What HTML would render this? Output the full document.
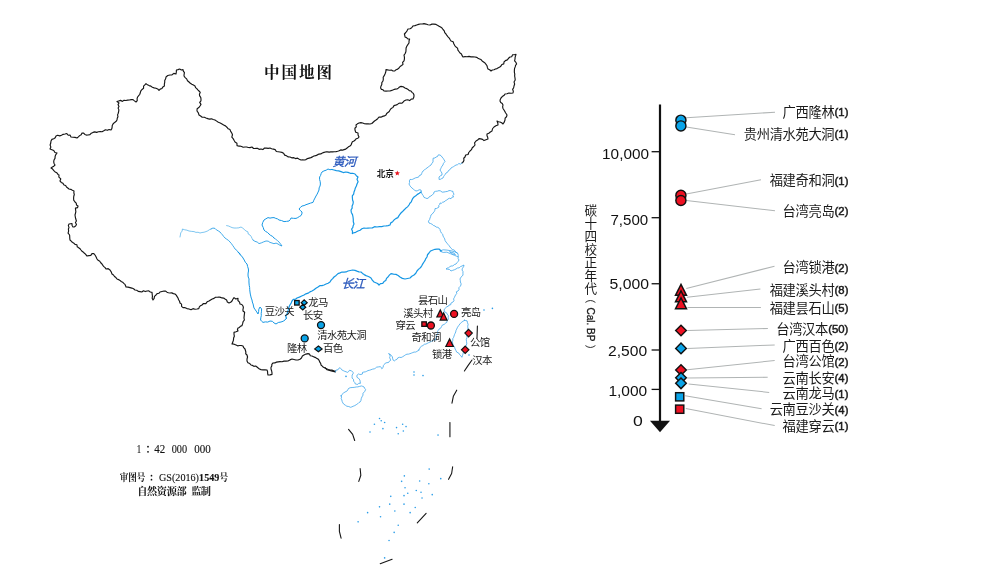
<!DOCTYPE html>
<html lang="zh"><head><meta charset="utf-8"><title>中国地图</title>
<style>
html,body{margin:0;padding:0;background:#fff}
body{width:1000px;height:576px;overflow:hidden;font-family:"Liberation Sans",sans-serif}
svg{display:block;filter:blur(0.35px)}
</style></head><body>
<svg width="1000" height="576" viewBox="0 0 1000 576">
<g fill="none" stroke-linejoin="round" stroke-linecap="round">
<path d="M335.6,371L333.71,370.77L331.9,370.12L330,370L328.3,369.42L326.62,368.79L325,368L323.43,367.31L322.28,366.07L321,365L320.67,363.29L319.66,361.92L319.14,360.31L318,359L316.55,358.16L315.07,357.35L313.53,356.68L312,356L310.31,355.8L309.52,354.09L308,353.6L305.93,354.1L304,355L302.37,356.09L301.45,358.05L299.97,359.31L298,360L295.94,360.04L293.97,359.53L292,359L289.94,359.89L288,361L286,361.17L283.98,361.08L282.02,361.72L280,361.6L278.22,361.82L276.47,362.14L274.8,362.92L273,363L271.82,364.27L271.78,365.93L271.02,367.34L271,369L271.59,370.75L271.97,372.54L272,374.4L270.02,374.84L268,375L267.62,373.34L267.59,371.61L267,370L265.01,369.76L262.99,369.92L261,369.6L259.45,369.07L258.21,368.05L257,367L255.66,366.01L253.89,366.32L252.53,365.4L251,365L249.79,363.54L247.89,362.78L247,361L247.02,359L247.55,357L247,355L245.7,353.77L245.87,352.04L245.46,350.51L245,349L243.71,347.69L243,346L241.28,345.54L239.5,345.53L237.66,345.86L236,345L234.08,344.16L232,344L232.8,342.07L233.45,340.1L233.6,338L234.34,336.18L234.02,334.28L234,332.4L236.02,331.75L238,331L237.45,329.5L238,328L239.47,327.42L240.53,326.18L242,325.6L242.63,323.66L243.11,321.66L244.4,320L243.99,318L244.18,316L244.4,314L244.65,312.31L243,310.95L242.96,309.31L243.38,307.58L243,306L241.84,304.5L240,304L239.56,302.05L237.92,300.54L238,298.4L235.79,299.04L234,297.6L232.87,299.22L232,301L230.67,302.26L229,303L227.33,302L226.62,300.04L225,299L223.65,298.06L222.02,297.94L220.53,297.4L219,297L217.28,297.29L215.49,297.29L214,298.4L212.21,299.04L210.57,299.94L209,301L207.14,301.8L205.83,303.57L203.48,303.53L202,305L200.5,305.69L199.36,306.83L198.77,308.65L197,309L195,309.27L193,308.65L191,309.76L189,309L186.98,308.61L185.1,307.65L183,307.6L181.54,306.37L181.57,304.16L180,303L179.55,301.25L178.61,299.69L178,298L177.11,296.58L176.22,295.17L175,294L173.34,293.62L171.76,292.86L170,293L168.41,292.76L166.94,292.17L165.64,291.08L164,291L162,291.49L160,292L158.89,293.3L157.09,293.68L156,295L154.47,296.35L154.16,298.43L153,300L152.18,298.18L152.44,296.21L152.19,294.31L152,292.4L150.3,292.05L148.83,290.9L147,291L145.29,291.58L143.45,290.77L141.8,291.98L140,291.6L138.23,291.38L136.75,290.28L135,290L133.54,288.77L131.82,288.07L130,287.6L128.02,287.16L126,287L125.56,285.68L125,284.4L123.79,283.35L122.65,282.21L121.2,281.46L120,280.4L118.55,279.59L117,279L115.92,277.58L114.5,276.5L113.48,275.02L112,274L111.21,271.89L110,270L108.2,268.68L106,269L105.11,267.66L103.86,266.61L102.88,265.35L102,264L100.75,262.75L99.77,261.23L98.15,260.35L97,259L96.14,256.93L95,255L93.83,253.6L92,253.6L90.8,255.37L88.87,255.63L87,256L85.87,254.73L84.72,253.48L83.47,252.33L82.07,251.33L81,250L79.99,248.68L78.68,247.67L77.25,246.8L76.9,244.77L75,244.4L73.85,243.19L72.35,242.37L71.22,241.13L70,240L69.77,238.34L69.71,236.67L69.6,235L68.08,233.22L68.6,231.04L68.4,229L69.02,227.38L68.31,225.61L69,224L70.5,223.77L72,223.6L72.12,225.41L73,227L74.43,226.84L75.6,226L76.49,224.43L75.43,222.55L76.4,221L75.79,219.03L75.33,217.03L75,215L75.46,213.36L75.86,211.72L75.6,210L75.43,208.09L77.59,207.57L78,206L76.51,205.03L76.23,203.16L75,202L73.71,200.21L73.6,198L73.77,196.25L74.3,194.53L73.84,192.75L74,191L72.36,190.26L70.79,189.36L69,189L67.79,187.95L66.48,187.03L65.65,185.5L64,185L62.98,183.36L61.25,182.42L60,181L60.8,178.81L58.86,177.08L59,175L58,174.4L56.86,172.84L55.12,171.92L53.84,170.52L52.6,169.06L51,168L52.39,167.07L53.83,166.21L55,165L54.04,163.46L53.71,161.79L54,160L54.99,158.35L55.13,156.34L55.85,154.58L57,153L54.94,152.54L53.76,150.54L51.91,149.73L50,149L50.86,147.08L50.11,144.95L50.75,143L51,141L51.91,139.41L53.73,138.73L55.22,137.72L56,136L57.72,135.24L59.74,135.84L61.49,135.21L63.18,134.33L65,134L66.83,133.52L68.22,135.25L70,135L71,137L73.01,137.29L75.04,137.42L77,138L78.37,136.87L79.62,135.62L81.19,134.69L82,133L83.64,133.09L84.85,134.45L86.3,135.09L88,135L89.95,134.67L91.3,133.2L93,132.4L94.76,131.85L96.66,132.34L98.41,131.73L100.21,131.49L102.08,131.79L103.79,130.85L105.47,129.76L107.38,130.32L109.1,129.47L111,130L111.83,128.61L112.13,127.04L112.26,125.42L113,124L114.33,122.66L115.91,121.58L117,120L117.23,118.3L117.95,116.67L117.57,114.9L118.23,113.25L118.62,111.57L118.87,109.88L118.12,108.07L118.97,106.44L118.02,104.61L119,103L117,101.6L118.72,100.93L120.45,100.34L122.39,101.38L124.05,100.2L125.89,100.48L127.66,100.19L129.44,100.03L131.19,99.58L133,99.6L134.44,100.88L136,102L137.25,100.56L137.08,98.67L137.6,97L138.72,95.63L139.82,94.25L140.33,92.49L140.89,90.76L142.07,89.43L143.58,88.31L143.55,86.21L144.85,84.96L146,83.6L147.43,84.82L149.1,85.6L150.87,86.15L152.34,87.3L154.09,87.91L155.98,88.26L157.68,88.97L159,90.4L160.18,89.09L161.94,88.5L162.9,86.92L164.4,86L164.35,84.13L164.72,82.34L164.73,80.49L165.63,78.79L166,77L167.78,75.56L170,75L172.03,74.82L173.84,73.36L176,74L176.34,72.01L176.4,70L178.03,69.63L179.65,68.99L181.37,70L183,69.6L183.36,71.18L184.43,72.66L184.11,74.34L184,76L185.16,77.58L186.65,78.88L187.5,80.71L189,82L190.33,83.26L191.84,84.23L193.42,85.11L195,86L195.56,87.6L196.78,88.67L197.85,89.87L199,91L200.25,92.39L199.43,94.29L199.67,95.93L200.72,97.37L201,99L200.95,100.78L199.69,102.38L200.98,104.35L200,106L198.83,107.57L197.13,108.81L197,111L198.35,112.83L199,115L200.64,116.02L202.19,117.23L204.27,117.2L206,118L207.75,118.63L209.52,119.17L211.48,118.83L213.21,119.56L215,120L216.69,121.11L218.33,122.3L220.26,122.99L222,124L223.65,125.05L225.44,125.89L226.89,127.24L228.19,128.79L230,129.6L230.67,131.39L231.76,133.01L232.47,134.78L231.82,137.1L233.13,138.64L234.04,140.33L235,142L236.95,143.27L237,145.6L238.47,146.06L240,146L241.63,146.47L243.22,147.23L244.97,146.98L246.67,147.04L248.3,147.55L250,147.6L251.94,147.02L253.61,148.5L255.48,148.44L257.37,148.24L259.1,149.32L261,149L262.88,149.56L264.53,148.01L266.37,148.12L268.21,148.32L270,148L271.64,148.74L273.4,149.18L275.15,149.62L276.34,151.49L278.17,151.74L280,152L281.89,152.38L283.59,153.16L284.68,155.14L286.48,155.7L287.99,156.85L290,157L291.74,157.83L293.76,157.65L295.47,158.61L297.57,158.12L299.25,159.2L301,160L302.66,159.84L304.35,159.95L306,159.6L307.47,158.6L309.18,158.11L310.88,157.62L312.46,156.86L314,156L315.76,155.65L317.36,154.88L318.95,154.07L320.78,153.91L322.34,153.02L324,152.4L325.69,151.94L327.41,151.91L329.14,152.06L330.85,151.9L332.58,151.89L334.29,151.71L336,151.6L337.62,151.27L339.19,150.75L340.67,149.89L342.44,150.17L344,149.6L345.73,149.08L347.09,147.96L348.46,146.83L350,146L351.15,144.87L351.68,143.25L352.38,141.75L354,141L355.27,140.02L356.26,138.69L357.94,138.24L359,137L358.06,135.11L358,133L355.72,132.28L355,130L354.91,128.25L356.32,126.8L356,125L357.41,123.87L359,123L360.89,122.59L362.7,123.01L364.48,123.72L366.31,123.87L368.16,123.91L370,124L371.85,123.52L373.16,122.25L374.5,120.99L376,120L377.68,118.68L379,117L380.94,117.17L382.61,116.39L384.37,115.91L386,115L386.64,113.47L387.95,112.46L389.24,111.44L390,110L391.24,108.45L393,107.37L394,105.6L395.6,105.18L397.15,104.65L398.46,103.57L400,103L401.98,103.21L403.23,101.97L404.46,100.67L406,100L407.76,99.79L409.65,100.58L411.23,99.11L413,99L413.86,97.09L414,95L413.33,93.42L412,92.33L411,91L409.28,90.69L408.04,89.43L406.57,88.61L405,88L403.18,86.76L401,86.4L399.49,86.99L398.33,88.12L397,89L395.15,89.16L393.44,89.78L391.73,90.42L390,91L388,90.98L386,91.1L384,91L383.06,89.78L381.44,89.33L380.6,88L380.95,86.16L381.8,84.5L381.82,82.55L383,81L383.32,79.2L383.19,77.27L384.22,75.67L385,74L385.57,72.59L385.9,71.12L386,69.6L387.75,69.93L389.52,70.2L391.37,70.07L393,71L394.84,70.94L396.1,69.69L397.71,69.16L399,68L400.09,66.52L401.61,65.54L403,64.4L402.6,62.41L404.02,60.76L404.44,58.92L404.4,57L404.02,55.07L405.18,53.5L405.86,51.81L406,50L406.07,47.96L406.8,46.2L407.84,44.57L409,43L409.04,40.96L409.6,39L407.83,38.87L406.54,37.65L405,37L404.8,35.48L404.4,34L405.82,32.49L407.04,30.84L408,29L410.03,28.72L411.71,27.74L413.01,25.95L415,25.6L416.75,24.99L418.5,24.37L420.3,23.96L422.19,23.97L424,23.6L426,24.07L427.95,24.73L430,25L431.93,24.14L433.95,24.08L436,24.4L437.5,25.29L439.04,26.13L440.57,26.99L442,28L443.02,29.49L444.27,30.82L444.75,32.66L446,34L446.88,35.49L448.03,36.78L449.23,38.04L450.06,39.56L451,41L453.13,41.77L453.82,43.74L454.74,45.51L456,47L457.53,48.15L457.93,50.05L458.95,51.53L460,53L461.46,53.99L462.08,55.6L463,57L464.99,56.67L467.02,56.79L469,56.4L470.97,56.86L473,56.78L475,57L476.64,57.32L478.02,58.24L479.51,58.92L481,59.6L482.13,60.97L483.59,61.96L485,63L486.02,64.36L487.01,65.75L487.39,67.43L488,69L489.67,69.74L491,71L492.33,69.97L493.98,69.75L495.42,69.01L497,68.6L498.36,67.77L499.79,67.05L501,66L501.86,64.56L503.78,63.92L504,62L505.41,60.65L507.3,59.86L508.53,58.29L510,57L511.69,56.78L512.6,54.78L514.37,54.76L516,54.4L515.57,55.91L515.09,57.41L515,59L514.6,60.97L515.94,62.37L516.6,64L515.55,65.31L515.2,66.89L514.58,68.36L514.4,70L514.34,72.02L514.77,74L514.64,76.02L515,78L515.2,80.06L514.01,81.94L514.67,84.05L514,86L513.65,87.74L512.62,89.37L513.34,91.26L513,93L511,93.24L508.94,93.02L507,93.74L505,94L503.91,95.57L502.26,96.59L501,98L500.27,99.42L500,101L500.76,102.51L502.26,103.47L503,105L502.61,106.81L502.98,108.47L504,110L504.79,111.34L505.5,112.72L506.4,114L507,115L506.5,116.73L505.12,118.11L505,120L504.26,122.13L503,124L501.66,122.76L500,122L498.44,121.69L497,121L497.78,122.93L498,125L495.87,125.73L494,127L492.5,128.75L492,131L490.34,132L488.81,133.24L487,134L487,135.73L487.69,137.33L488,139L485.95,139.68L484,140.6L482.57,139.34L480.84,138.83L479,138.6L477.64,139.97L476,141L474.57,142.77L475,145L473.75,146.5L472.25,147.79L471.46,149.67L470,151L468.76,152.51L468.06,154.47L465.67,155.02L465,157L463.74,158.24L463.96,160.23L463.32,161.78L462,163" stroke="#161616" stroke-width="1.15"/>
<path d="M325,367.71L327.08,369.79L331.25,370.83L335.42,371.88" stroke="#161616" stroke-width="1.15"/>
<path d="M462,163L460.72,164.15L458.84,163.53L457.56,164.68L456,165L454.76,165.77L453.57,166.61L452.28,167.29L451,168L450.07,169.57L448.49,170.49L447.68,172.18L446,173L445.28,174.27L444.39,175.43L443.58,176.65L443,178L441.7,178.56L440.46,179.29L439,179.4L439.07,178.2L439,177L440.39,175.83L442,175L441.94,173.09L440.97,171.55L440,170L440.71,168.73L441.33,167.4L442,166.1L443,165L443.32,163.61L444.2,162.53L445,161.4L444.1,159.86L443.18,158.34L442,157L441.17,155.83L440,155L438.27,154.88L437.47,156.6L436,157L435,158L433.17,158.17L433,160L433.06,161.96L431.87,163.41L431,165L429.62,165.94L428.29,166.95L427,168L425.56,168.86L424.39,170.08L423,171L422.2,172.26L421.65,173.66L421,175L419.45,175.43L418.56,177.15L416.97,177.49L415.4,177.88L414,178.6L412.75,179.29L411.42,179.56L410,179.4L409.41,180.88L409.6,182.52L409,184L409.79,185.49L410.75,186.85L412,188L413.26,189.1L414.54,190.17L416,191L417.66,190.62L419.22,189.75L421,190L421.35,191.33L421.48,192.71L422,194L423.19,195.59L424,197.4L425.52,197.96L427,198.6L428.5,198L429.47,196.56L431,196L432.22,194.83L433.63,193.8L434,192L435.6,191.31L437.35,191.13L439,190.6L440.68,191.01L442.16,192.16L444,192L445.7,191.66L447.43,191.43L449,190.6L450.39,190.58L451.67,191.13L453,191.4L453.15,192.8L454.04,194.12L452.85,195.66L453.6,197L452.07,197.14L451.05,198.69L449.29,198.21L448,199L446.7,200.04L445.22,200.85L444,202L442.63,202.18L441.49,203.28L440,203L439.75,204.35L438.73,205.51L439,207L437.76,207.76L436.49,208.47L435,208.6L434.85,210.3L434.13,211.75L433,213L432.13,214.18L430.89,215.13L430.6,216.66L430,218L429.57,219.65L428.41,221.15L429,223L430.6,223.55L432.13,224.25L433.4,225.45L435,226L436.12,227.04L437.74,227.35L439.03,228.14L440,229.4L440,230L440.64,231.55L441.41,233.05L442.74,234.25L443,236L443.83,237.46L444.7,238.9L445.08,240.59L446,242L447.04,243.22L448.03,244.48L449.12,245.66L450,247L451.07,248.35L452.32,249.47L454,250L455.11,250.89L455.75,252.25L457.22,252.78L458,254L458.22,255.5L458.19,257.05L458.12,258.6L459,260L458.13,261.43L457.02,262.69L456,264L454.3,264.59L452.9,265.92L451,266L449.75,266.74L448.65,267.74L447.17,268.12L446,269L447.84,269.23L449.64,269.56L451,271L452.67,270.35L454.37,269.77L456,269L457.4,268.04L459.17,267.83L460.45,266.65L462,266L464,265L463.57,266.76L462.48,268.26L462,270L462.98,271.54L462.95,273.28L463,275L462.01,276.34L460.71,277.45L460,279L460.32,280.49L460.37,282.02L461.02,283.45L461,285L460.14,286.44L458.88,287.69L459.01,289.63L458,291L456.4,291.74L456.73,293.64L455.74,294.75L455,296L454.43,297.48L453.59,298.86L453.99,300.66L453,302L450.94,303.12L450.75,304.73L449,305.04L448.33,306.25L446.86,306.74L445.73,307.81L444.74,308.7L444.17,309.9L444.35,311.89L446.25,312.5L447.22,314.11L448.33,315.62L448.22,317.44L448.33,319.27L447.2,320.66L446.77,322.4L445.37,323.32L444.17,324.48L442.43,324.97L441.56,326.56L440.63,328.23L438.96,329.17L438.31,330.3L437.4,331.25L438.57,333.05L436.88,334.38L436.28,335.75L436.51,337.27L435.71,338.6L435.83,340.1L434.22,339.57L433.06,340.8L431.67,341.15L430.15,342.03L428.54,342.71L427.23,343.43L425.89,344.08L424.38,344.27L422.96,345.53L421.25,346.35L420.16,347.41L419.5,348.77L418.65,350L419.27,350L418.04,350.67L416.87,351.45L415.62,352.08L414.14,352.05L412.8,352.57L411.46,353.12L409.91,353.7L408.33,354.17L406.98,354.16L405.73,354.69L404.2,355.78L402.6,356.77L401.12,357.51L399.48,357.29L397.8,357.86L396.88,359.38L395.47,359.99L394.27,360.94L393.17,360.14L392.71,358.85L392.35,356.85L391.15,355.21L389.92,354.31L388.54,353.65L389.88,354.61L390.1,356.25L389.6,357.72L390.31,359.05L390.62,360.42L389.32,361.2L388.54,362.5L386.97,362.68L385.42,363.02L384.42,364.36L383.33,365.62L383.13,367.48L381.77,368.75L381.32,367.47L380.21,366.67L378.38,366.92L376.56,367.19L375.59,368.07L374.48,368.75L372.61,369.13L370.83,369.79L369.43,370.28L367.96,370.56L366.67,371.35L365.32,371.85L363.89,372.06L362.5,372.4L362.44,373.98L360.94,374.48L359.6,374.39L358.33,373.96L357.32,374.83L356.77,376.04L357.1,377.42L358.33,378.12L359.24,379.07L359.9,380.21L360.21,381.76L360.42,383.33L358.87,383.24L357.81,384.38L356.48,384.25L355.21,383.85L354.69,382.39L353.65,381.25L353.5,379.37L352.08,378.12L352.1,376.56L352.08,375L353.08,373.89L353.12,372.4L351.56,370.83L349.48,370.31L348.65,371.57L347.4,372.4L346.13,371.79L344.79,371.35L343.22,370.6L341.67,369.79L340.92,368.72L340.1,367.71L338.72,368.41L338.02,369.79L336.09,370.05L335.42,371.88" stroke="#33a0e9" stroke-width="0.75"/>
<path d="M341.15,395.83L342.03,394.41L343.23,393.23L344.97,392.04L346.88,391.15L347.79,389.92L348.44,388.54L350.17,387.72L352.08,387.5L354.18,387.39L356.25,386.98L357.84,386.89L359.38,386.46L361.46,385.94L362.79,386.38L364.06,386.98L364.7,388.36L365.62,389.58L364.58,391.67L363.02,393.23L362.95,395.18L361.98,396.88L361.24,398.64L360.94,400.52L360.22,401.89L358.85,402.6L357.68,403.81L356.25,404.69L354.76,405.62L353.12,406.25L351.86,406.88L350.52,407.29L348.77,406.52L346.88,406.25L345.33,405.19L343.75,404.17L342.87,402.93L342.19,401.56L341.82,399.95L341.15,398.44L341.62,397.13L341.15,395.83Z" stroke="#33a0e9" stroke-width="0.75"/>
<path d="M464.48,320.31L465.78,320.57L467.08,320.83L467.51,322.68L468.12,324.48L467.71,326.28L467.92,328.12L467.75,329.85L468.03,331.61L467.6,333.33L466.72,335.34L467.08,337.5L466.27,339.52L466.56,341.67L466.79,343.81L466.04,345.83L465.53,347.22L464.9,348.57L464.48,350L463.73,351.31L463.28,352.72L462.92,354.17L462.46,355.75L461.88,357.29L460.83,355.73L459.58,354.59L458.75,353.12L456.67,352.08L455.91,350.51L455.1,348.96L454.55,347.28L453.54,345.83L452.93,344.51L452.6,343.12L452.5,341.67L452.84,340.28L452.72,338.77L453.54,337.5L454,336.09L454.48,334.68L455.1,333.33L455.73,331.98L455.98,330.49L456.67,329.17L457.52,327.24L458.75,325.52L459.97,323.9L461.35,322.4L462.91,321.34L464.48,320.31Z" stroke="#33a0e9" stroke-width="0.75"/>
<path d="M440.26,250.83L443.21,249.8L446.9,250.09L451.33,250.83L455.02,251.86L457.23,253.04" stroke="#33a0e9" stroke-width="0.75"/>
<path d="M440.26,251.27L443.21,252.45L446.9,252.16L450.59,253.78L454.28,255.26L457.97,256.73" stroke="#33a0e9" stroke-width="0.75"/>
<path d="M449.85,251.86L453.54,252.9L455.46,254.52L452.36,253.93L449.85,251.86" stroke="#33a0e9" stroke-width="0.75"/>
<path d="M226.6,225.6L228.51,226.01L230.3,226.8L232.08,227.61L234,228L236.38,228.02L238.74,227.84L241,227L242.81,228.15L244.41,229.57L246,231L247.86,231.81L248.26,234.07L250,235L251.19,236.55L252.01,238.33L253,240" stroke="#1496e4" stroke-width="0.55"/><path d="M253,240L254.92,241.33L257.21,242.05L259,243.6L261.38,242.86L263.66,241.86L266,241L268.17,241.15L269.97,242.42L272,243L273.94,243.69L276.09,243.11L278,244L279.89,245.22L282,246L280.55,243.96L279,242L277.42,240.56L275.75,239.23L274,238" stroke="#1496e4" stroke-width="0.8"/><path d="M274,238L272.58,236.36L270.62,235.39L269,234L267.5,232.46L265.59,231.43L264,230L263.2,227.42L262,225L262.77,222.41L264,220L265.98,218.77L268,217.6L270,218.12L272,217.73L274,217.6L275.69,218.36L277.48,218.89L279,220L281.57,220.57L284,221.6L286.51,221.36L289,221L290.23,219.66L291,218L293.49,218.33L296,218.4L297.74,217.6L299.33,216.52L301,215.6L301.89,213.91L302,212L300.42,210.58L299,209L300.38,207.38L302,206L304.08,205.59L306.01,204.68L308,204L310.47,203.12L313,202.4L313.84,200.19L314.93,198.1L316,196L317.17,194.08L318.09,192.05L319,190L319.11,187.92L320.06,186.03L320.4,184L320.19,181.66L319.57,179.37L319.6,177L320.61,175.43L321.12,173.63L322,172L323.95,170.91L326.11,170.21L328,169L329.93,169.72L332.03,169.46" stroke="#1496e4" stroke-width="1.0"/><path d="M332.03,169.46L334,170L336.3,170.66L338.73,170.81L341,171.6L343.25,172.56L345.68,171.99L348,172.4L350.25,173.28L352.71,173.28L355,174L356.33,175.67L358,177L357.01,179.24L358.09,181.77L357,184L356.37,186.05L355.36,187.95L354.78,190.01L354,192L353.66,194.05L352.31,195.83L352.4,198L352.58,200L353.29,201.95L353,204L352.09,205.92L352.16,208.16L351,210L351.33,212.43L352.5,214.62L353,217L353.29,219.34L353.29,221.72L354,224L353.17,225.65L352.78,227.51L351.6,229L352.5,231.21L352.4,233.6L353,233L355.63,232.33L358,231L360.1,230.2L361.89,228.78L364,228L366,228.26L368,228.15L370,228L372.36,227.86L374.57,226.66L377,227L379.32,226.58L381.7,226.6L384,226L386.04,225.88L388.04,225.59L390,225L390.76,222.87L392.71,221.7L394,220L395.76,218.64L397.84,217.64L399,215.6L400.45,213.54L402.26,211.8L404,210L405.67,208.34L407.52,206.85L409,205L409.89,203.26L411.3,201.84L412,200L412.8,198.37L414,197L415.8,195.82L417.41,194.37L419.28,193.29L421,192" stroke="#1496e4" stroke-width="1.2"/>
<path d="M180,237L180.4,234.94L180.74,232.86L182.11,231.09L182.4,229L184.57,229.75L186.85,230.17L189,231L191.49,231.36L194,231.6L195.93,232.36L198.07,232.25L200,233L201.99,232.5L204.04,232.22L206,231.6L207.74,230.87L209.29,229.78L211,229" stroke="#1496e4" stroke-width="0.55"/><path d="M211,229L212.91,228.07L215,228.4L216.45,229.9L218.28,230.88L220,232L221.25,233.5L222.56,234.95L223.69,236.55L225,238L226.75,239.23L228.53,240.43L230,242L231.43,243.62L232.65,245.4L233.9,247.14L235,249L236.91,250.42L238.2,252.47L240,254" stroke="#1496e4" stroke-width="0.8"/><path d="M240,254L239,253L238,252L239.55,253.25L240.35,255.13L241.98,256.31L243,258L244.25,260.06L245.32,262.23L247,264L247.64,266.52L248.4,269L248.49,271.01L248.12,273L248,275L248.21,277.01L249.02,278.94L248.93,280.98L249,283L249.2,285.26L249.64,287.48L249.73,289.75L250,292L250.29,294.05L250.78,296.06L251.24,298.07L252,300L252.33,302.04L253.08,303.98L253.51,306L254,308L255.4,309.95L256.74,311.95L258,314L258.61,311.65L258.84,309.19L260,307L261.6,309L261.5,311.21L261.21,313.4L261.29,315.63L260.81,317.8L260.6,320L261.69,321.31L263,322.4L265.32,321.88L267.79,322.08L270,321L272.35,321.3L274.03,322.94L276,324L278.3,322.49L281,322L283.13,321.26L285,320L286.42,318.25" stroke="#1496e4" stroke-width="1.0"/><path d="M286.42,318.25L285.62,315.76L287,314L287.7,311.68L288.48,309.38L289,307L289.92,304.96L291.15,303.07L292,301L293.32,299.42L295.46,299.22L297,298L299.38,297.1L301.67,296.01L304,295L305.92,293.84L308.09,293.17L309.93,291.87L312,291L314.04,289.72L315.92,288.21L318,287L319.79,285.69L322,285.66L324,285L326.03,284.05L328.1,283.2L330,282L331.13,280.17L332.66,278.66L334,277L336.12,275.44L338,273.6L340.02,272.84L342,272L344.06,272.03L346.1,271.92L348,271L350.31,270.53L352.62,270.03L355,270.4L356.93,271.18L358.88,271.91L361,272L362.5,273.42L364.19,274.6L366,275.6L367.75,276.23L369.43,277.01L371,278L372.29,280.16L374,282L375.81,282.77L377.61,283.53L379,285L380.5,283.62L382.75,283.35L384,281.6L385.77,280.45L386.51,278.4L388,277L389.34,275.16L391,273.6L393.49,274.07L396,274.4L398.12,275.51L400,277L402.35,278.36L405,279L407.5,278.48L410,278L411.8,276.24L414,275L415.81,273.24L417,271L418.21,269.54L419.71,268.38L421,267L422,265.33L422.92,263.62L424,262L425.08,260.38L425.82,258.56L427,257L427.51,254.75L429,253L430.6,250.97L433,250L434.94,249.29L436.96,249.11L439,249L441.2,251" stroke="#1496e4" stroke-width="1.2"/>
<path d="M477.4,326L477.2,332L477,338" stroke="#161616" stroke-width="1.1"/>
<path d="M472,360L468,365.6L464.4,371" stroke="#161616" stroke-width="1.1"/>
<path d="M456.73,390.2L453.33,396.33L451.97,403.13" stroke="#161616" stroke-width="1.1"/>
<path d="M449.93,422.52L449.93,436.8" stroke="#161616" stroke-width="1.1"/>
<path d="M452.65,466.73L451.63,473.54L448.57,479.32" stroke="#161616" stroke-width="1.1"/>
<path d="M426.12,513.33L417.28,522.86" stroke="#161616" stroke-width="1.1"/>
<path d="M392.11,559.25L380.2,563.67" stroke="#161616" stroke-width="1.1"/>
<path d="M339.39,524.56L339.39,531.36L341.09,538.16" stroke="#161616" stroke-width="1.1"/>
<path d="M360.14,468.44L360.82,475.24L358.78,481.36" stroke="#161616" stroke-width="1.1"/>
<path d="M348.57,429.32L352.65,434.42L354.69,440.54" stroke="#161616" stroke-width="1.1"/>
</g>
<g fill="#2a9de8"><circle cx="379.52" cy="418.44" r="0.8"/><circle cx="374.42" cy="424.22" r="0.8"/><circle cx="381.22" cy="420.82" r="0.8"/><circle cx="384.63" cy="422.52" r="0.8"/><circle cx="382.93" cy="428.64" r="0.8"/><circle cx="370" cy="432.04" r="0.8"/><circle cx="396.53" cy="427.62" r="0.8"/><circle cx="402.65" cy="424.22" r="0.8"/><circle cx="406.05" cy="426.6" r="0.8"/><circle cx="403.33" cy="431.02" r="0.8"/><circle cx="398.23" cy="433.74" r="0.8"/><circle cx="438.03" cy="435.1" r="0.8"/><circle cx="404.35" cy="475.92" r="0.8"/><circle cx="429.18" cy="469.12" r="0.8"/><circle cx="440.75" cy="478.64" r="0.8"/><circle cx="401.63" cy="481.36" r="0.8"/><circle cx="419.66" cy="481.02" r="0.8"/><circle cx="428.84" cy="483.74" r="0.8"/><circle cx="405.03" cy="487.82" r="0.8"/><circle cx="416.26" cy="490.54" r="0.8"/><circle cx="421.02" cy="492.24" r="0.8"/><circle cx="432.24" cy="494.63" r="0.8"/><circle cx="407.76" cy="493.27" r="0.8"/><circle cx="404.01" cy="495.65" r="0.8"/><circle cx="390.75" cy="496.33" r="0.8"/><circle cx="422.04" cy="498.03" r="0.8"/><circle cx="389.73" cy="504.15" r="0.8"/><circle cx="404.01" cy="504.15" r="0.8"/><circle cx="379.52" cy="506.87" r="0.8"/><circle cx="415.24" cy="507.55" r="0.8"/><circle cx="394.83" cy="510.95" r="0.8"/><circle cx="410.14" cy="512.65" r="0.8"/><circle cx="367.62" cy="512.65" r="0.8"/><circle cx="380.54" cy="516.73" r="0.8"/><circle cx="358.1" cy="521.84" r="0.8"/><circle cx="398.23" cy="525.24" r="0.8"/><circle cx="394.15" cy="532.38" r="0.8"/><circle cx="389.05" cy="540.54" r="0.8"/><circle cx="384.63" cy="557.89" r="0.8"/><circle cx="414" cy="372" r="0.8"/><circle cx="414" cy="375" r="0.8"/><circle cx="423" cy="375.6" r="0.8"/><circle cx="484" cy="310" r="0.8"/><circle cx="492.4" cy="308.4" r="0.8"/><circle cx="346" cy="376.4" r="0.8"/><circle cx="469" cy="355" r="0.8"/></g>
<circle cx="454.1" cy="313.9" r="3.5" fill="#ee1122" stroke="#111" stroke-width="1.3"/>
<path d="M440.3,308.4L444.7,317.6L435.9,317.6Z" fill="#111"/><path d="M440.3,311.18L437.8,316.4L442.8,316.4Z" fill="#ee1122"/>
<path d="M443.6,311.6L448,320.7L439.2,320.7Z" fill="#111"/><path d="M443.6,314.36L441.11,319.5L446.09,319.5Z" fill="#ee1122"/>
<rect x="421.85" y="321.85" width="4.5" height="4.5" fill="#ee1122" stroke="#111" stroke-width="1.3"/>
<circle cx="430.9" cy="325.5" r="3.5" fill="#ee1122" stroke="#111" stroke-width="1.3"/>
<path d="M449.6,337.6L454.3,347.1L444.9,347.1Z" fill="#111"/><path d="M449.6,340.31L446.83,345.9L452.37,345.9Z" fill="#ee1122"/>
<path d="M468.6,329.4L472.3,333.1L468.6,336.8L464.9,333.1Z" fill="#ee1122" stroke="#111" stroke-width="1.2" stroke-linejoin="miter"/>
<path d="M465.2,346.1L468.9,349.8L465.2,353.5L461.5,349.8Z" fill="#ee1122" stroke="#111" stroke-width="1.2" stroke-linejoin="miter"/>
<rect x="294.65" y="300.55" width="4.5" height="4.5" fill="#0aa4e8" stroke="#111" stroke-width="1.3"/>
<path d="M304.2,299.85L307.2,302.65L304.2,305.45L301.2,302.65Z" fill="#0aa4e8" stroke="#111" stroke-width="1.2" stroke-linejoin="miter"/>
<path d="M302.75,304.4L305.75,307.2L302.75,310L299.75,307.2Z" fill="#0aa4e8" stroke="#111" stroke-width="1.2" stroke-linejoin="miter"/>
<circle cx="321" cy="325.1" r="3.5" fill="#0aa4e8" stroke="#111" stroke-width="1.3"/>
<circle cx="304.7" cy="338.4" r="3.5" fill="#0aa4e8" stroke="#111" stroke-width="1.3"/>
<path d="M318.4,346L322.1,348.9L318.4,351.8L314.7,348.9Z" fill="#0aa4e8" stroke="#111" stroke-width="1.2" stroke-linejoin="miter"/>
<g fill="#1a1a1a" font-family="'Liberation Sans','Noto Sans CJK SC',sans-serif" font-size="10.4" letter-spacing="-0.65">
<text x="418.1" y="304.45">昙石山</text>
<text x="403.2" y="316.55">溪头村</text>
<text x="461.1" y="315.55">亮岛</text>
<text x="395.4" y="329.45">穿云</text>
<text x="411.6" y="341.45">奇和洞</text>
<text x="431.9" y="357.55">锁港</text>
<text x="469.9" y="345.75">公馆</text>
<text x="472.3" y="363.95">汉本</text>
<text x="308.2" y="305.85">龙马</text>
<text x="264.7" y="315.05">豆沙关</text>
<text x="302.9" y="318.75">长安</text>
<text x="317.3" y="338.75">清水苑大洞</text>
<text x="287" y="352.05">隆林</text>
<text x="323.1" y="352.05">百色</text>
</g>
<text x="376.7" y="177.11" font-family="'Liberation Sans','Noto Sans CJK SC',sans-serif" font-size="8.7" font-weight="bold" fill="#1a1a1a" letter-spacing="-0.1">北京</text>
<path d="M397.3,170.5L397.99,172.35L399.96,172.43L398.42,173.66L398.95,175.57L397.3,174.48L395.65,175.57L396.18,173.66L394.64,172.43L396.61,172.35Z" fill="#e8141e"/>
<text transform="translate(332.6 165.96) skewX(-16)" font-family="'Liberation Sans','Noto Sans CJK SC',sans-serif" font-size="12" fill="#2a58bc" stroke="#2a58bc" stroke-width="0.3" letter-spacing="-0.7">黄河</text>
<text transform="translate(341.4 287.76) skewX(-16)" font-family="'Liberation Sans','Noto Sans CJK SC',sans-serif" font-size="12" fill="#2a58bc" stroke="#2a58bc" stroke-width="0.3" letter-spacing="-0.7">长江</text>
<text x="264.08" y="77.92" font-family="'Liberation Serif','Noto Serif CJK SC',serif" font-size="15.5" font-weight="bold" fill="#111" letter-spacing="1.95">中国地图</text>
<g font-family="Liberation Serif, serif" fill="#111" stroke="#111" stroke-width="0.12">
<text x="137.5" y="453" font-size="11.5" textLength="3.2" lengthAdjust="spacingAndGlyphs"> </text>
<text x="136.7" y="453" font-size="11.5" textLength="4.4" lengthAdjust="spacingAndGlyphs">1</text>
<text x="154.3" y="453" font-size="11.5" textLength="11" lengthAdjust="spacingAndGlyphs">42</text>
<text x="171.7" y="453" font-size="11.5" textLength="15.4" lengthAdjust="spacingAndGlyphs">000</text>
<text x="194.2" y="453" font-size="11.5" textLength="16.5" lengthAdjust="spacingAndGlyphs">000</text>
<text x="159" y="480.6" font-size="11.2" textLength="40" lengthAdjust="spacingAndGlyphs">GS(2016)</text>
<text x="199.1" y="480.6" font-size="11.2" font-weight="bold" textLength="20.2" lengthAdjust="spacingAndGlyphs">1549</text>
</g>
<g fill="#111"><circle cx="148" cy="446.7" r="0.9"/><circle cx="148" cy="451.8" r="0.9"/><circle cx="151.5" cy="475.7" r="0.85"/><circle cx="151.5" cy="479.7" r="0.85"/></g>
<g fill="#111" font-family="'Liberation Serif','Noto Serif CJK SC',serif" font-weight="bold">
<text x="119.8" y="480.6" font-size="10" textLength="25.6" lengthAdjust="spacingAndGlyphs">审图号</text>
<text x="219.6" y="480.6" font-size="10" textLength="8.6" lengthAdjust="spacingAndGlyphs">号</text>
<text x="137.2" y="494.88" font-size="10.2" letter-spacing="-0.35">自然资源部</text>
<text x="191.2" y="494.88" font-size="10.2" letter-spacing="-0.5">监制</text>
</g>
<g stroke="#111" fill="none">
<path d="M660,104.5V422" stroke-width="2.2"/>
<path d="M651.6,151.7H660" stroke-width="1.3"/>
<path d="M651.6,217.7H660" stroke-width="1.3"/>
<path d="M651.6,283.75H660" stroke-width="1.3"/>
<path d="M651.6,350H660" stroke-width="1.3"/>
<path d="M651.6,389.4H660" stroke-width="1.3"/>
</g>
<path d="M650,420.8H670L660,432.3Z" fill="#111"/>
<g font-family="Liberation Sans, sans-serif" font-size="14.8" fill="#111" text-anchor="end">
<text x="649" y="159" textLength="46.9" lengthAdjust="spacingAndGlyphs">10,000</text>
<text x="648.2" y="224.6" textLength="37.8" lengthAdjust="spacingAndGlyphs">7,500</text>
<text x="649" y="289" textLength="39.4" lengthAdjust="spacingAndGlyphs">5,000</text>
<text x="647.2" y="355.8" textLength="39.1" lengthAdjust="spacingAndGlyphs">2,500</text>
<text x="647.2" y="395.7" textLength="38.8" lengthAdjust="spacingAndGlyphs">1,000</text>
<text x="642.8" y="425.8" textLength="9.8" lengthAdjust="spacingAndGlyphs">0</text>
</g>
<g stroke="#b0b4b4" stroke-width="1.05" fill="none">
<path d="M686.3,117.8L775,112.2"/>
<path d="M686.3,127L735,134.7"/>
<path d="M686.3,193.9L761,179.7"/>
<path d="M686.3,200.4L775,210.7"/>
<path d="M686.3,288.4L774.5,266.2"/>
<path d="M687,297.3L760.4,289"/>
<path d="M687.5,307.4L760.9,307.4"/>
<path d="M687.4,330.5L767.9,328.4"/>
<path d="M687.4,348.4L774.7,345"/>
<path d="M687.2,369.7L774.7,360.5"/>
<path d="M687.2,378L767.7,377.3"/>
<path d="M688.6,383.9L769.2,392.4"/>
<path d="M685.1,395.8L761.6,408.8"/>
<path d="M685.8,408.6L774.7,425.6"/>
</g>
<circle cx="680.9" cy="120.2" r="5.05" fill="#0aa4e8" stroke="#111" stroke-width="1.45"/>
<circle cx="680.9" cy="125.9" r="5.05" fill="#0aa4e8" stroke="#111" stroke-width="1.45"/>
<circle cx="680.9" cy="195.4" r="5.05" fill="#ee1122" stroke="#111" stroke-width="1.45"/>
<circle cx="680.9" cy="200.5" r="5.05" fill="#ee1122" stroke="#111" stroke-width="1.45"/>
<path d="M681,282.7L687.7,295.9L674.3,295.9Z" fill="#111"/><path d="M681,286.01L676.74,294.4L685.26,294.4Z" fill="#ee1122"/>
<path d="M681,289.2L687.7,302.4L674.3,302.4Z" fill="#111"/><path d="M681,292.51L676.74,300.9L685.26,300.9Z" fill="#ee1122"/>
<path d="M681,296.3L687.7,309.5L674.3,309.5Z" fill="#111"/><path d="M681,299.61L676.74,308L685.26,308Z" fill="#ee1122"/>
<path d="M681,325.2L686.3,330.5L681,335.8L675.7,330.5Z" fill="#ee1122" stroke="#111" stroke-width="1.45" stroke-linejoin="miter"/>
<path d="M681,343.1L686.3,348.4L681,353.7L675.7,348.4Z" fill="#0aa4e8" stroke="#111" stroke-width="1.45" stroke-linejoin="miter"/>
<path d="M681,364.7L686.3,370L681,375.3L675.7,370Z" fill="#ee1122" stroke="#111" stroke-width="1.45" stroke-linejoin="miter"/>
<path d="M681,372.5L686.3,377.8L681,383.1L675.7,377.8Z" fill="#0aa4e8" stroke="#111" stroke-width="1.45" stroke-linejoin="miter"/>
<path d="M681,378L686.3,383.3L681,388.6L675.7,383.3Z" fill="#0aa4e8" stroke="#111" stroke-width="1.45" stroke-linejoin="miter"/>
<rect x="675.6" y="392.7" width="8.2" height="8.2" fill="#0aa4e8" stroke="#111" stroke-width="1.45"/>
<rect x="675.6" y="405.1" width="8.2" height="8.2" fill="#ee1122" stroke="#111" stroke-width="1.45"/>
<g font-family="Liberation Sans, sans-serif" font-size="11.6" fill="#1a1a1a" stroke="#1a1a1a" stroke-width="0.5" text-anchor="end">
<text x="848.4" y="116.1" textLength="13.8" lengthAdjust="spacingAndGlyphs">(1)</text>
<text x="848.4" y="138" textLength="13.8" lengthAdjust="spacingAndGlyphs">(1)</text>
<text x="848.4" y="184.5" textLength="13.8" lengthAdjust="spacingAndGlyphs">(1)</text>
<text x="848.4" y="215.4" textLength="13.8" lengthAdjust="spacingAndGlyphs">(2)</text>
<text x="848.4" y="271.5" textLength="13.8" lengthAdjust="spacingAndGlyphs">(2)</text>
<text x="848.4" y="293.8" textLength="13.8" lengthAdjust="spacingAndGlyphs">(8)</text>
<text x="848.4" y="312.3" textLength="13.8" lengthAdjust="spacingAndGlyphs">(5)</text>
<text x="848.4" y="333.1" textLength="20.2" lengthAdjust="spacingAndGlyphs">(50)</text>
<text x="848.4" y="350.1" textLength="13.8" lengthAdjust="spacingAndGlyphs">(2)</text>
<text x="848.4" y="365.6" textLength="13.8" lengthAdjust="spacingAndGlyphs">(2)</text>
<text x="848.4" y="382" textLength="13.8" lengthAdjust="spacingAndGlyphs">(4)</text>
<text x="848.4" y="397.5" textLength="13.8" lengthAdjust="spacingAndGlyphs">(1)</text>
<text x="848.4" y="413.6" textLength="13.8" lengthAdjust="spacingAndGlyphs">(4)</text>
<text x="848.4" y="429.8" textLength="13.8" lengthAdjust="spacingAndGlyphs">(1)</text>
</g>
<g fill="#1a1a1a" font-family="'Liberation Sans','Noto Sans CJK SC',sans-serif" font-size="13.3" letter-spacing="-0.37">
<text x="782.61" y="116.95">广西隆林</text>
<text x="743.82" y="138.85">贵州清水苑大洞</text>
<text x="769.68" y="185.35">福建奇和洞</text>
<text x="782.61" y="216.25">台湾亮岛</text>
<text x="782.61" y="272.35">台湾锁港</text>
<text x="769.68" y="294.65">福建溪头村</text>
<text x="769.68" y="313.15">福建昙石山</text>
<text x="776.21" y="333.95">台湾汉本</text>
<text x="782.61" y="350.95">广西百色</text>
<text x="782.61" y="366.45">台湾公馆</text>
<text x="782.61" y="382.85">云南长安</text>
<text x="782.61" y="398.35">云南龙马</text>
<text x="769.68" y="414.45">云南豆沙关</text>
<text x="782.61" y="430.65">福建穿云</text>
</g>
<text fill="#1a1a1a" font-family="'Liberation Sans','Noto Sans CJK SC',sans-serif" font-size="12.6"><tspan x="584.4" y="214.79">碳</tspan><tspan x="584.4" y="227.76">十</tspan><tspan x="584.4" y="240.73">四</tspan><tspan x="584.4" y="253.7">校</tspan><tspan x="584.4" y="266.67">正</tspan><tspan x="584.4" y="279.64">年</tspan><tspan x="584.4" y="292.61">代</tspan></text>
<g font-family="Liberation Sans, sans-serif" font-size="11.6" fill="#1a1a1a" stroke="#1a1a1a" stroke-width="0.35">
<text transform="translate(586.7 307.4) rotate(90)" textLength="34" lengthAdjust="spacingAndGlyphs">Cal. BP</text>
</g>
<g fill="none" stroke="#1a1a1a" stroke-width="0.9"><path d="M585.4,302.4Q590.4,298.6 595.4,302.4"/><path d="M585.4,345.6Q590.4,349.4 595.4,345.6"/></g>
</svg>
</body></html>
